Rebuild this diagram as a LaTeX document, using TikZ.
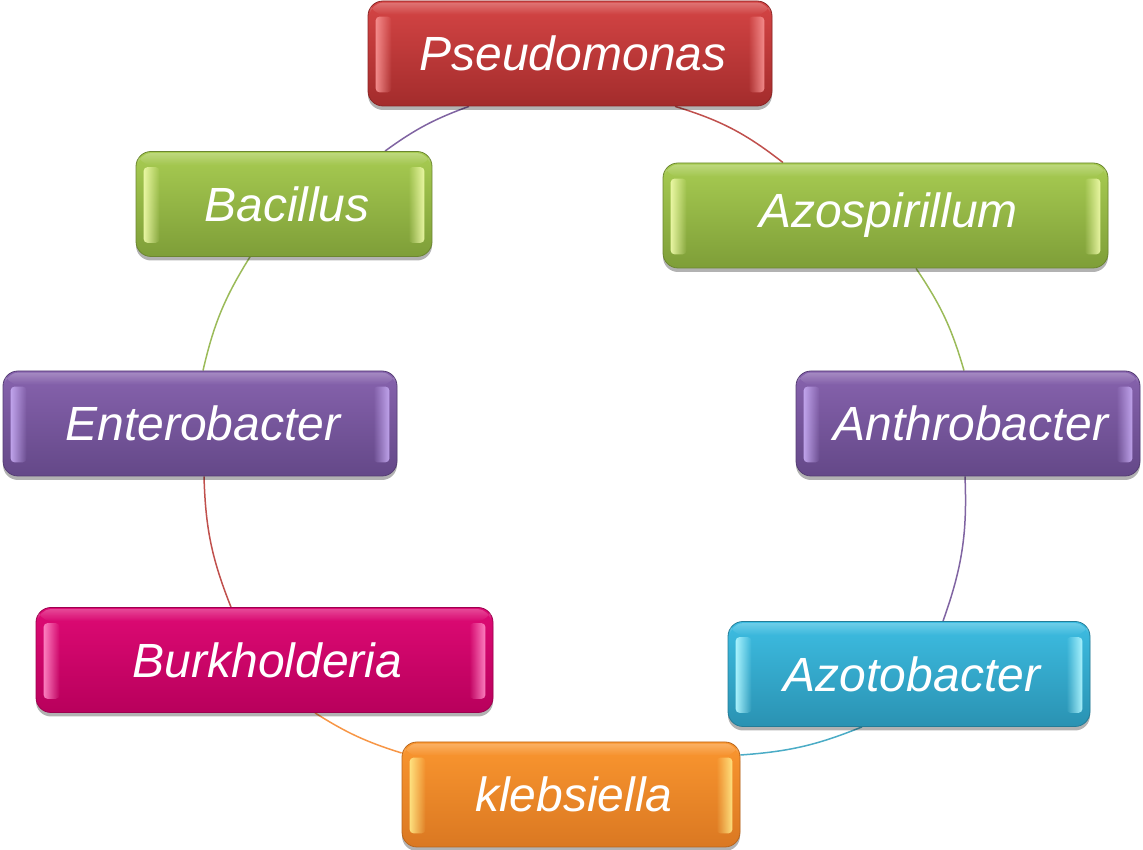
\documentclass[tikz,border=0pt]{standalone}
\usepackage{fontspec}
\setmainfont{Liberation Sans}
\usetikzlibrary{shadows,backgrounds,fadings}
% box colours: T top, B bottom, L highlight
\definecolor{redT}{HTML}{D54545}\definecolor{redB}{HTML}{A32C2C}\definecolor{redL}{HTML}{F69090}
\definecolor{grnT}{HTML}{A8CC52}\definecolor{grnB}{HTML}{7E9E38}\definecolor{grnL}{HTML}{EEFAA8}
\definecolor{purT}{HTML}{8763AE}\definecolor{purB}{HTML}{644888}\definecolor{purL}{HTML}{C4A8F0}
\definecolor{magT}{HTML}{DE0A74}\definecolor{magB}{HTML}{B8005C}\definecolor{magL}{HTML}{FF86C4}
\definecolor{cyaT}{HTML}{3DBDE2}\definecolor{cyaB}{HTML}{2A92B2}\definecolor{cyaL}{HTML}{B0F6FF}
\definecolor{oraT}{HTML}{FA962F}\definecolor{oraB}{HTML}{DA7822}\definecolor{oraL}{HTML}{FFE684}
% connector colours
\definecolor{lnRed}{HTML}{C0504D}\definecolor{lnGrn}{HTML}{9BBB59}\definecolor{lnPur}{HTML}{8064A2}
\definecolor{lnCya}{HTML}{4BACC6}\definecolor{lnOra}{HTML}{F79646}
\tikzset{
  gbox/.style={rounded corners=15pt, minimum height=105pt, inner sep=0pt,
    text=white, font=\fontsize{48}{56}\selectfont\itshape,
    top color=#1T, bottom color=#1B, draw=#1B!85!black, line width=0.8pt,
    drop shadow={shadow xshift=0pt, shadow yshift=-4pt, opacity=0.3, fill=black}},
  arcline/.style={line width=1.5pt, draw=#1}
}
\newcommand\bevstrips[2]{%
  \fill[rounded corners=4pt, #2L, path fading=east, opacity=0.95]
    ([xshift=8pt,yshift=14pt]#1.south west) rectangle ([xshift=24pt,yshift=-16pt]#1.north west);
  \fill[rounded corners=4pt, #2L, path fading=west, opacity=0.95]
    ([xshift=-24pt,yshift=14pt]#1.south east) rectangle ([xshift=-8pt,yshift=-16pt]#1.north east);
  \fill[white, path fading=south, opacity=0.25, rounded corners=14pt]
    ([xshift=2pt,yshift=-2pt]#1.north west) rectangle ([xshift=-2pt,yshift=-14pt]#1.north east);
}
\begin{document}
\begin{tikzpicture}[x=1pt,y=1pt]
\useasboundingbox (0,0) rectangle (1143,850);
% boxes
\node[gbox=red, minimum width=404pt, text depth=0pt] (pseudo) at (570,796.5) {\hspace{6pt}Pseudomonas};
\node[gbox=grn, minimum width=445pt] (azosp)  at (885.5,634.5) {\hspace{6pt}Azospirillum};
\node[gbox=grn, minimum width=296pt] (bacil)  at (284,646) {\hspace{6pt}Bacillus};
\node[gbox=pur, minimum width=344pt] (anthro) at (968,426.5) {\hspace{6pt}Anthrobacter};
\node[gbox=pur, minimum width=394pt] (entero) at (200,426.5) {\hspace{6pt}Enterobacter};
\node[gbox=mag, minimum width=457pt] (burk)   at (264.5,190) {\hspace{6pt}Burkholderia};
\node[gbox=cya, minimum width=362pt] (azoto)  at (909,176) {\hspace{6pt}Azotobacter};
\node[gbox=ora, minimum width=338pt] (kleb)   at (571,55.5) {\hspace{6pt}klebsiella};
% bevel highlights
\bevstrips{pseudo}{red}
\bevstrips{azosp}{grn}
\bevstrips{bacil}{grn}
\bevstrips{anthro}{pur}
\bevstrips{entero}{pur}
\bevstrips{burk}{mag}
\bevstrips{azoto}{cya}
\bevstrips{kleb}{ora}
% connector end points on the box edges
\coordinate (a1) at (pseudo.south -| 675,0);
\coordinate (b1) at (azosp.north -| 783,0);
\coordinate (a2) at (azosp.south -| 916,0);
\coordinate (b2) at (anthro.north -| 964,0);
\coordinate (a3) at (anthro.south -| 965,0);
\coordinate (b3) at (azoto.north -| 943,0);
\coordinate (a4) at (azoto.south -| 862,0);
\coordinate (b4) at (kleb.east |- 0,95);
\coordinate (a5) at (kleb.west |- 0,97);
\coordinate (b5) at (burk.south -| 315,0);
\coordinate (a6) at (burk.north -| 231,0);
\coordinate (b6) at (entero.south -| 204,0);
\coordinate (a7) at (entero.north -| 203,0);
\coordinate (b7) at (bacil.south -| 250,0);
\coordinate (a8) at (bacil.north -| 385,0);
\coordinate (b8) at (pseudo.south -| 469,0);
\begin{scope}[on background layer]
\draw[arcline=lnRed] (a1) to[bend left=10.5] (b1);
\draw[arcline=lnGrn] (a2) to[bend left=9] (b2);
\draw[arcline=lnPur] (a3) to[bend left=11] (b3);
\draw[arcline=lnCya] (a4) to[bend left=9] (b4);
\draw[arcline=lnOra] (a5) to[bend left=7.5] (b5);
\draw[arcline=lnRed] (a6) to[bend left=10] (b6);
\draw[arcline=lnGrn] (a7) to[bend left=9.5] (b7);
\draw[arcline=lnPur] (a8) to[bend left=8] (b8);
\end{scope}
\end{tikzpicture}
\end{document}
